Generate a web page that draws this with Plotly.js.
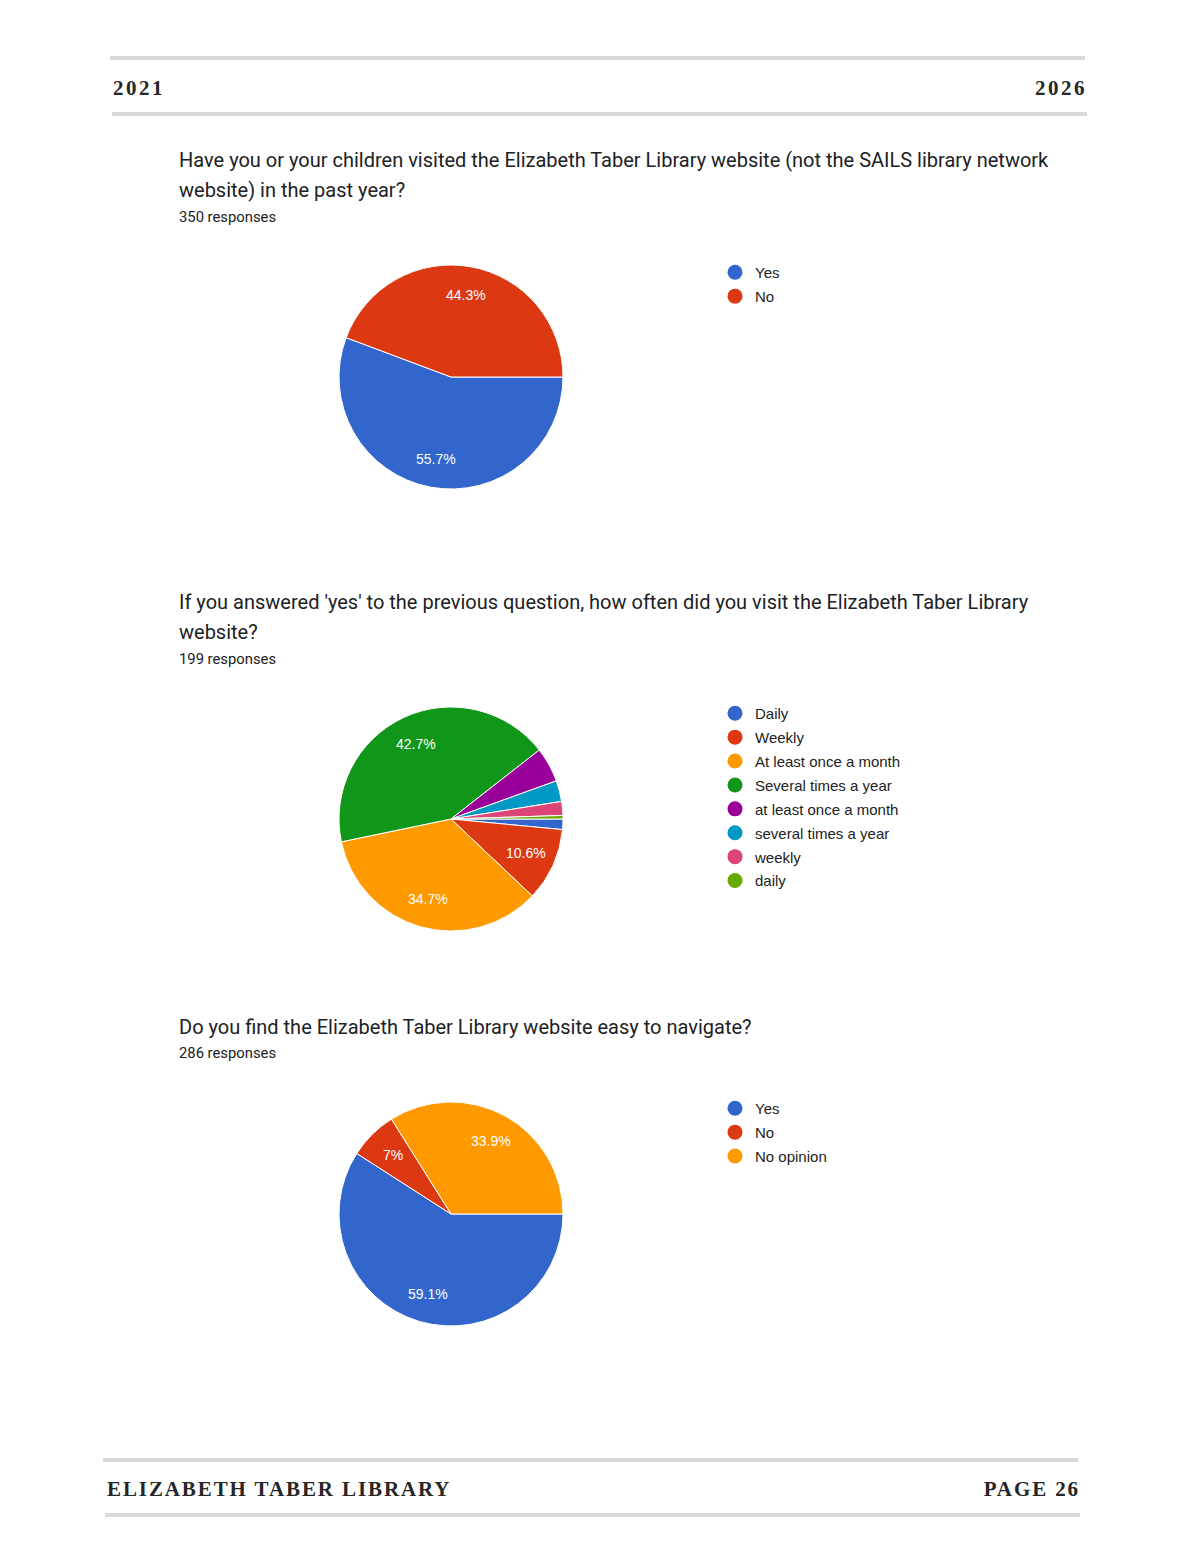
<!DOCTYPE html>
<html>
<head>
<meta charset="utf-8">
<script src="https://cdn.plot.ly/plotly-3.0.1.min.js"></script>
<style>
  html, body { margin: 0; padding: 0; background: #fff; }
  #page { position: relative; width: 1200px; height: 1553px; }
  #chart { position: absolute; left: 0; top: 0; width: 1200px; height: 1553px; }
  .hdr { position: absolute; font-family: "Liberation Serif", "Times New Roman", serif; font-weight: bold;
         color: #262626; white-space: nowrap; font-size: 21px; line-height: 21px; }
</style>
</head>
<body>
<div id="page">
  <div id="chart"></div>
  <div class="hdr" style="left:113px; top:78px; letter-spacing:2.5px;">2021</div>
  <div class="hdr" style="right:113px; top:78px; letter-spacing:2.5px;">2026</div>
  <div class="hdr" style="left:107px; top:1479px; letter-spacing:1.9px;">ELIZABETH TABER LIBRARY</div>
  <div class="hdr" style="right:120px; top:1479px; letter-spacing:1.9px;">PAGE 26</div>
</div>
<script>
// question 1
let q1_labels = ['Yes', 'No']
let q1_values = [195, 155]
let q1_colors = ['#3366cc', '#dc3912']
// question 2
let q2_labels = ['Daily', 'Weekly', 'At least once a month', 'Several times a year',
  'at least once a month', 'several times a year', 'weekly', 'daily']
let q2_values = [3, 21, 69, 85, 10, 6, 4, 1]
let q2_colors = ['#3366cc', '#dc3912', '#ff9900', '#109618', '#990099', '#0099c6', '#dd4477', '#66aa00']
// question 3
let q3_labels = ['Yes', 'No', 'No opinion']
let q3_values = [169, 20, 97]
let q3_colors = ['#3366cc', '#dc3912', '#ff9900']

let W = 1200, H = 1553
let R = 112          // pie radius in px
let PIE_CX = 451     // pie centre x in px
function px(x){ return x / W }
function py(y){ return 1 - y / H }

// google-style percent labels, placed along each slice's bisector
function pieLabels(values, cy){
  let total = values.reduce((a, b) => a + b, 0)
  let start = 0
  let out = []
  values.forEach(v => {
    let frac = v / total
    let mid = (start + frac / 2) * 2 * Math.PI
    start += frac
    if(frac * 100 < 6) return
    let txt = (frac * 100).toFixed(1).replace(/\.0$/, '') + '%'
    out.push({
      text: txt,
      x: px(PIE_CX + 0.74 * R * Math.cos(mid)),
      y: py(cy + 0.74 * R * Math.sin(mid)),
      xref: 'paper', yref: 'paper', xanchor: 'center', yanchor: 'middle', showarrow: false,
      font: { family: 'Liberation Sans, Arial, sans-serif', size: 14, color: '#ffffff' }
    })
  })
  return out
}

function pieTrace(labels, values, colors, cy){
  return {
    type: 'pie',
    labels: labels,
    values: values,
    sort: false,
    direction: 'clockwise',
    rotation: 90,
    textinfo: 'none',
    marker: { colors: colors, line: { color: '#ffffff', width: 1 } },
    domain: { x: [px(PIE_CX - R), px(PIE_CX + R)], y: [py(cy + R), py(cy - R)] },
    showlegend: false,
    hoverinfo: 'skip'
  }
}

function legendTraces(labels, colors, legendName){
  return labels.map((lab, i) => ({
    type: 'scatter',
    mode: 'markers',
    x: [null],
    y: [null],
    name: lab,
    legendgroup: legendName + '_' + i,
    marker: { color: colors[i], size: 15, symbol: 'circle' },
    legend: legendName,
    showlegend: true,
    hoverinfo: 'skip'
  }))
}

let graph_data = [
  pieTrace(q1_labels, q1_values, q1_colors, 377),
  pieTrace(q2_labels, q2_values, q2_colors, 819),
  pieTrace(q3_labels, q3_values, q3_colors, 1214)
]
  .concat(legendTraces(q1_labels, q1_colors, 'legend'))
  .concat(legendTraces(q2_labels, q2_colors, 'legend2'))
  .concat(legendTraces(q3_labels, q3_colors, 'legend3'))

let titleFont = { family: 'Roboto, sans-serif', size: 20, color: '#202124' }
let subFont = { family: 'Roboto, sans-serif', size: 14.8, color: '#202124' }
function note(text, x, y, font){
  return { text: text, x: px(x), y: py(y), xref: 'paper', yref: 'paper',
    xanchor: 'left', yanchor: 'middle', showarrow: false, font: font }
}

let legendFont = { family: 'Liberation Sans, Arial, sans-serif', size: 15, color: '#222222' }
function legendBox(topY){
  return { x: px(715), y: py(topY), xanchor: 'left', yanchor: 'top', font: legendFont,
    tracegroupgap: 1.4, bgcolor: 'rgba(0,0,0,0)', borderwidth: 0,
    itemclick: false, itemdoubleclick: false }
}

function hline(x0, x1, y){
  return { type: 'line', xref: 'paper', yref: 'paper', x0: px(x0), x1: px(x1), y0: py(y), y1: py(y),
    line: { color: '#d9d9d9', width: 4 } }
}

var layout = {
  width: W,
  height: H,
  margin: { l: 0, r: 0, t: 0, b: 0 },
  paper_bgcolor: '#ffffff',
  plot_bgcolor: '#ffffff',
  xaxis: { visible: false, range: [0, 1] },
  yaxis: { visible: false, range: [0, 1] },
  legend: legendBox(256),
  legend2: legendBox(697),
  legend3: legendBox(1092),
  annotations: [
    note('Have you or your children visited the Elizabeth Taber Library website (not the SAILS library network', 177, 160, titleFont),
    note('website) in the past year?', 177, 190, titleFont),
    note('350 responses', 177, 217, subFont),
    note("If you answered 'yes' to the previous question, how often did you visit the Elizabeth Taber Library", 177, 602, titleFont),
    note('website?', 177, 632, titleFont),
    note('199 responses', 177, 659, subFont),
    note('Do you find the Elizabeth Taber Library website easy to navigate?', 177, 1027, titleFont),
    note('286 responses', 177, 1053, subFont)
  ]
    .concat(pieLabels(q1_values, 377))
    .concat(pieLabels(q2_values, 819))
    .concat(pieLabels(q3_values, 1214)),
  shapes: [
    hline(110, 1085, 58),
    hline(112, 1087, 114),
    hline(103, 1078, 1460),
    hline(105, 1080, 1515)
  ]
};

Plotly.newPlot('chart', graph_data, layout, { staticPlot: true });
</script>
</body>
</html>
